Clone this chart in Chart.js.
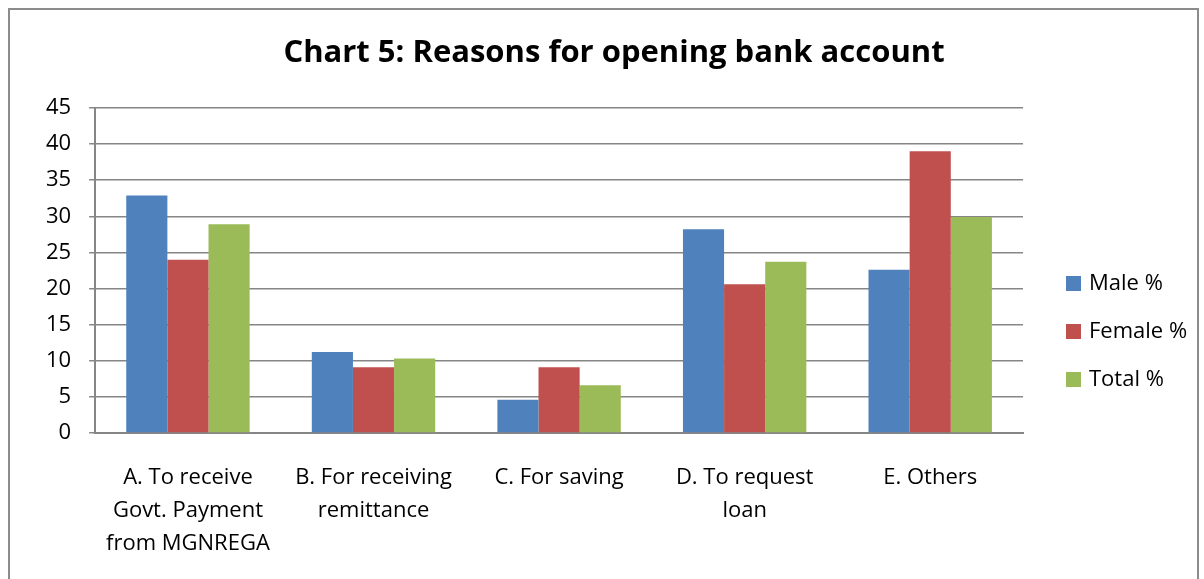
<!DOCTYPE html>
<html>
<head>
<meta charset="utf-8">
<script src="https://cdn.jsdelivr.net/npm/chart.js@4/dist/chart.umd.min.js"></script>
<style>
  body { margin: 0; background: #fff; overflow: hidden; }
  #frame { position: absolute; left: 8px; top: 8px; width: 1187px; height: 700px; border: 2px solid #8c8c8c; }
  #wrap { position: absolute; left: 0; top: 0; width: 1204px; height: 579px; }
</style>
</head>
<body>
<div id="frame"></div>
<div id="wrap"><canvas id="myChart"></canvas></div>
<script>
// categories (multi-line labels as in the source chart)
let categories = [
    ["A. To receive", "Govt. Payment", "from MGNREGA"],
    ["B. For receiving", "remittance"],
    ["C. For saving"],
    ["D. To request", "loan"],
    ["E. Others"]
];
let maleValues = [32.9, 11.2, 4.6, 28.2, 22.6];
let femaleValues = [24.0, 9.1, 9.1, 20.6, 39.0];
let totalValues = [28.9, 10.3, 6.6, 23.7, 29.9];
let seriesNames = ["Male %", "Female %", "Total %"];
let chartTitle = "Chart 5: Reasons for opening bank account";

const FONT = "'Open Sans', sans-serif";

// title centred on the whole frame, legend on the right, like Excel does
const frameTexts = {
    id: "frameTexts",
    afterDraw(chart) {
        let ctx = chart.ctx;
        ctx.save();
        ctx.fillStyle = "#000";
        ctx.font = "bold 31px " + FONT;
        ctx.textAlign = "center";
        ctx.textBaseline = "middle";
        ctx.fillText(chartTitle, 614, 53);

        let x = chart.chartArea.right + 43;
        let y = 283;
        ctx.font = "22px " + FONT;
        ctx.textAlign = "left";
        chart.data.datasets.forEach(function (ds, i) {
            ctx.fillStyle = ds.backgroundColor;
            ctx.fillRect(x, y + i * 48 - 7, 15, 15);
            ctx.fillStyle = "#000";
            ctx.fillText(ds.label, x + 23, y + i * 48 + 1);
        });
        ctx.restore();
    }
};

new Chart("myChart", {
    type: "bar",
    data: {
        labels: categories,
        datasets: [
            { label: seriesNames[0], data: maleValues, backgroundColor: "#4F81BD" },
            { label: seriesNames[1], data: femaleValues, backgroundColor: "#C0504D" },
            { label: seriesNames[2], data: totalValues, backgroundColor: "#9BBB59" }
        ]
    },
    options: {
        responsive: true,
        maintainAspectRatio: false,
        animation: false,
        categoryPercentage: 0.665,
        barPercentage: 1.0,
        layout: { padding: { left: 28, right: 181, top: 108, bottom: 0 } },
        plugins: {
            legend: { display: false },
            tooltip: { enabled: false },
            title: { display: false }
        },
        scales: {
            x: {
                grid: { display: false },
                border: { display: true, color: "#868686", width: 2 },
                afterFit: function (scale) { scale.height = 146; },
                ticks: {
                    color: "#000",
                    font: { family: FONT, size: 22, lineHeight: 1.5 },
                    padding: 20,
                    maxRotation: 0,
                    autoSkip: false
                }
            },
            y: {
                min: 0,
                max: 45,
                ticks: {
                    stepSize: 5,
                    color: "#000",
                    font: { family: FONT, size: 22 },
                    padding: 18
                },
                grid: { color: "#868686", lineWidth: 1.5, tickLength: 6 },
                border: { display: true, color: "#868686", width: 2 }
            }
        }
    },
    plugins: [frameTexts]
});
</script>
</body>
</html>
